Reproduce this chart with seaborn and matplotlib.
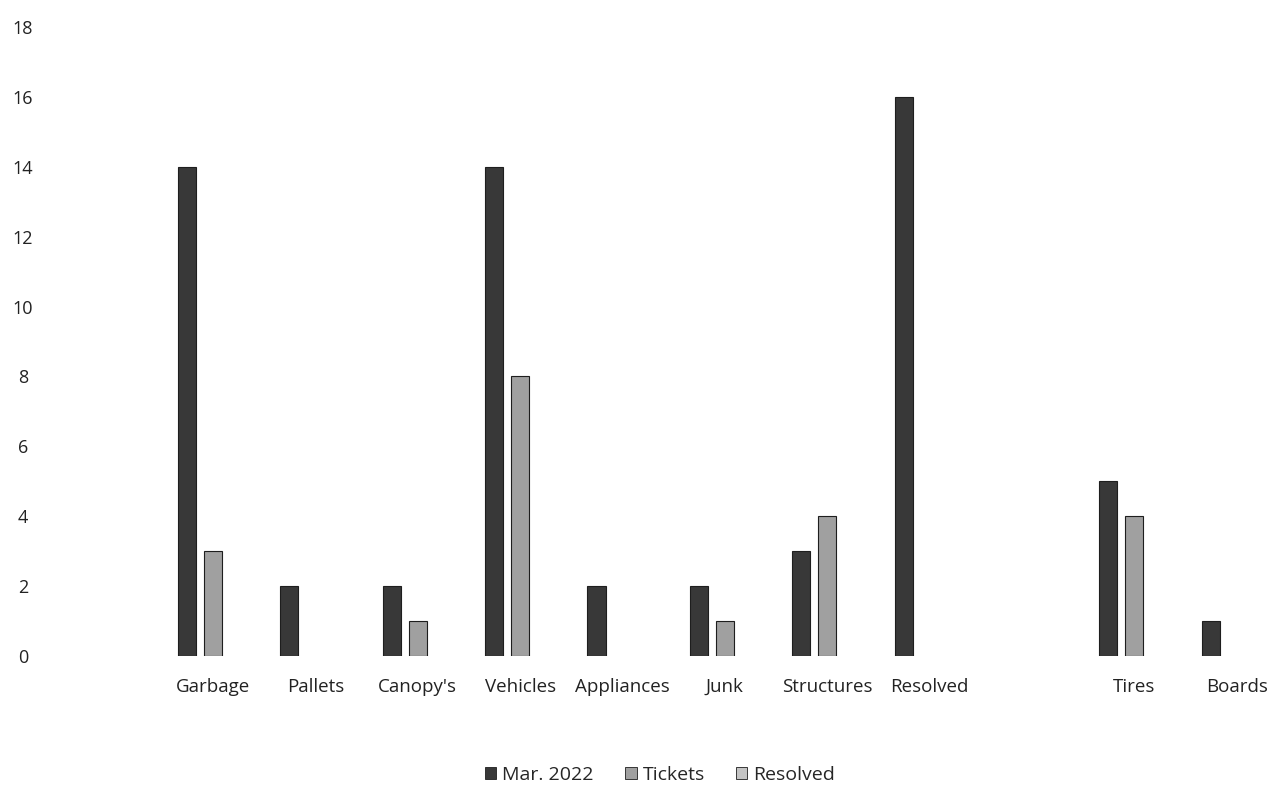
import matplotlib
matplotlib.use("Agg")
import matplotlib.pyplot as plt
import seaborn as sns
import pandas as pd

categories = ["Garbage", "Pallets", "Canopy's", "Vehicles", "Appliances", "Junk",
              "Structures", "Resolved", " ", "Tires", "Boards"]
series_names = ["Mar. 2022", "Tickets", "Resolved"]
mar_2022 = [14, 2, 2, 14, 2, 2, 3, 16, 0, 5, 1]
tickets = [3, 0, 1, 8, 0, 1, 4, 0, 0, 4, 0]
resolved = [0, 0, 0, 0, 0, 0, 0, 0, 0, 0, 0]
y_ticks = [0, 2, 4, 6, 8, 10, 12, 14, 16, 18]

colors = ["#383838", "#a0a0a0", "#c4c4c4"]

rows = []
for name, vals in zip(series_names, [mar_2022, tickets, resolved]):
    for cat, v in zip(categories, vals):
        rows.append({"category": cat, "series": name, "value": v})
df = pd.DataFrame(rows)

sns.set_style("white")
plt.rcParams['font.family'] = ['Open Sans', 'DejaVu Sans']

fig = plt.figure(figsize=(12.84, 7.89), dpi=100)
ax = fig.add_axes([0.126, 0.1686, 0.877, 0.7972])

sns.barplot(data=df, x="category", y="value", hue="series", order=categories,
            hue_order=series_names, palette=colors, width=0.76, gap=0.3,
            edgecolor="#1e1e1e", linewidth=0.8, legend=False, ax=ax)

# hide outlines of empty bars
for p in ax.patches:
    if p.get_height() == 0:
        p.set_visible(False)

ax.set_ylim(0, 18)
ax.set_xlim(-0.5, 10.5)
ax.set_yticks(y_ticks)
ax.set_yticklabels([str(t) for t in y_ticks], fontsize=13, color="#222222")
ax.tick_params(axis="y", length=0, pad=100)
ax.tick_params(axis="x", length=0, pad=16, labelsize=13.5, labelcolor="#222222")
for lab in ax.get_yticklabels():
    lab.set_horizontalalignment("center")
ax.set_xlabel("")
ax.set_ylabel("")
sns.despine(ax=ax, left=True, bottom=True)

handles = [plt.Rectangle((0, 0), 1, 1, facecolor=c, edgecolor="#1e1e1e", linewidth=0.6)
           for c in colors]
fig.legend(handles, series_names, loc="center", bbox_to_anchor=(660 / 1284, 1 - 775 / 789),
           ncol=3, frameon=False, fontsize=14, handlelength=0.6, handleheight=0.6,
           handletextpad=0.3, columnspacing=1.6)

fig.savefig("out.png", dpi=100)
